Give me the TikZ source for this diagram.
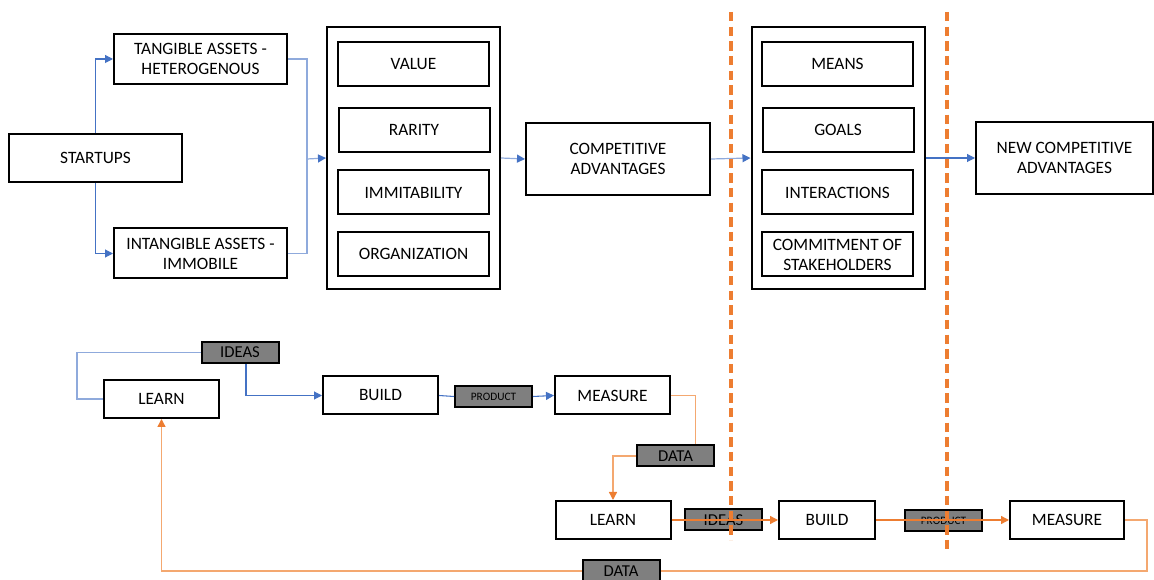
\documentclass[tikz,border=0pt]{standalone}
\usepackage{fontspec}
\setmainfont{Carlito}
\usetikzlibrary{arrows.meta}

\definecolor{lnblue}{HTML}{4472C4}
\definecolor{lnlight}{HTML}{8FAADC}
\definecolor{lnorange}{HTML}{ED7D31}
\definecolor{lnpeach}{HTML}{F4A870}
\definecolor{taggray}{HTML}{7F7F7F}

\tikzset{
  blk/.style={draw=black, line width=1.5pt, fill=white, inner sep=0pt, align=center,
    font=\fontsize{13}{15}\selectfont},
  frame/.style={draw=black, line width=1.5pt, inner sep=0pt, minimum width=129.75pt, minimum height=196.5pt},
  item/.style={blk, minimum width=113.25pt, minimum height=33pt},
  step box/.style={blk, minimum width=86.25pt, minimum height=28.5pt},
  tag/.style={draw=black, line width=1.5pt, fill=taggray, inner sep=0pt,
    minimum width=57.75pt, minimum height=15.75pt, font=\fontsize{12.5}{14}\selectfont},
  tip/.style={-{Triangle[length=6pt,width=6pt,color=#1]}},
  blueln/.style={lnblue, line width=0.8pt},
  liteln/.style={lnlight, line width=0.9pt},
  orangeln/.style={lnorange, line width=1pt},
  peachln/.style={lnpeach, line width=1pt},
  sepline/.style={lnorange, line width=2.4pt, dash pattern=on 7pt off 4pt}
}

\begin{document}
\begin{tikzpicture}[x=0.75pt,y=-0.75pt]
  \useasboundingbox (0,0) rectangle (1154,580);

  % resources
  \node[blk, minimum width=129.75pt, minimum height=36pt] (start) at (95.5,158) {STARTUPS};
  \node[blk, minimum width=129.75pt, minimum height=37.5pt] (tang) at (200.5,59) {TANGIBLE ASSETS -\\HETEROGENOUS};
  \node[blk, minimum width=129.75pt, minimum height=37.5pt] (intang) at (200.5,253.5) {INTANGIBLE ASSETS -\\IMMOBILE};

  % VRIO
  \node[frame] (vrio) at (413.5,158) {};
  \node[item] (value) at (413.5,64) {VALUE};
  \node[item] (rarity) at (414,130) {RARITY};
  \node[item] (immit) at (413.5,192.5) {IMMITABILITY};
  \node[item] (organ) at (413.5,254) {ORGANIZATION};

  \node[blk, minimum width=138pt, minimum height=54pt] (comp) at (618,159) {COMPETITIVE\\ADVANTAGES};

  % effectuation
  \node[frame] (effect) at (838,158) {};
  \node[item] (means) at (837.5,64) {MEANS};
  \node[item] (goals) at (838,130) {GOALS};
  \node[item] (inter) at (837.5,192.5) {INTERACTIONS};
  \node[item] (commit) at (837.5,254.5) {COMMITMENT OF\\STAKEHOLDERS};

  \node[blk, minimum width=132.75pt, minimum height=54pt] (newcomp) at (1064.5,158) {NEW COMPETITIVE\\ADVANTAGES};

  \coordinate (merge) at (307,159);
  \draw[blueln, tip=lnblue] (start.north) |- (tang.west);
  \draw[blueln, tip=lnblue] (start.south) |- (intang.west);
  \draw[liteln] (tang.east) -| (merge);
  \draw[liteln] (intang.east) -| (merge);
  \draw[liteln, tip=lnblue] (merge) -- (vrio.west);
  \draw[liteln, tip=lnblue] (vrio.east) -- (comp.west);
  \draw[liteln, tip=lnblue] (comp.east) -- (effect.west);
  \draw[blueln, tip=lnblue] (effect.east) -- (newcomp.west);

  % build - measure - learn, first loop
  \node[step box] (learnA) at (161.5,399) {LEARN};
  \node[step box] (buildA) at (380.5,395.5) {BUILD};
  \node[step box] (measA) at (612.5,395.5) {MEASURE};
  \node[tag] (ideasA) at (240,352.5) {IDEAS};
  \node[tag, font=\fontsize{8.5}{10}\selectfont] (prodA) at (493.5,396.5) {PRODUCT};
  \node[tag] (dataA) at (675.5,456) {DATA};

  % second loop
  \node[step box] (learnB) at (613,520) {LEARN};
  \node[blk, minimum width=72pt, minimum height=28.5pt] (buildB) at (827,520) {BUILD};
  \node[blk, minimum width=85.5pt, minimum height=28.5pt] (measB) at (1067,520) {MEASURE};
  \node[tag] (ideasB) at (723.5,520) {IDEAS};
  \node[tag, font=\fontsize{8.5}{10}\selectfont] (prodB) at (943.5,520.5) {PRODUCT};
  \node[tag] (dataB) at (621,571) {DATA};

  \draw[liteln] (learnA.west) -- ++(-26,0) |- (ideasA.west);
  \draw[blueln, tip=lnblue] ([xshift=4.5pt]ideasA.south) |- (buildA.west);
  \draw[blueln] (buildA.east) -- (prodA.west);
  \draw[blueln, tip=lnblue] (prodA.east) -- (measA.west);
  \draw[peachln] (measA.east) -| ([xshift=15pt]dataA.north);
  \draw[peachln, tip=lnorange] (dataA.west) -| (learnB.north);

  \draw[sepline] (731,12) -- (731,540);
  \draw[sepline] (947,12) -- (947,550);

  \draw[orangeln, tip=lnorange] (learnB.east) -- (buildB.west);
  \draw[orangeln, tip=lnorange] (buildB.east) -- (measB.west);
  \draw[peachln] (measB.east) -- ++(22,0) |- (dataB.east);
  \draw[peachln, tip=lnorange] (dataB.west) -| (learnA.south);
\end{tikzpicture}
\end{document}
